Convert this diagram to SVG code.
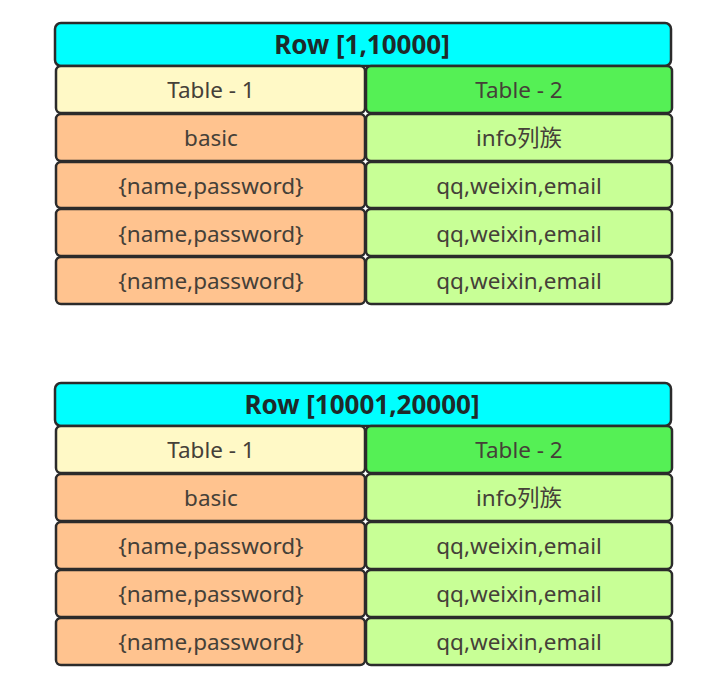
<svg xmlns="http://www.w3.org/2000/svg" width="720" height="690" viewBox="0 0 720 690">
<style>
.c{stroke:#2b2b2b;stroke-width:2.5}
.h{fill:#00FFFF}.t1{fill:#FFF9C6}.t2{fill:#55F055}.o{fill:#FFC38F}.g{fill:#C8FF96}
text{font-family:"Noto Sans","Noto Sans CJK SC",sans-serif;font-size:22.5px;fill:#454038;text-anchor:middle;dominant-baseline:central}
.ht{font-size:26px;font-weight:bold;fill:#1e2a2a}
</style>
<rect width="720" height="690" fill="#fff"/>
<g id="table1">
<g id="t1-header"><rect class="c h" x="55" y="23" width="616" height="43" rx="6"/><text class="ht" x="362" y="44">Row [1,10000]</text></g>
<g id="t1-c1"><rect class="c t1" x="56" y="66" width="309" height="47" rx="5"/><text x="211" y="89">Table - 1</text></g>
<g id="t1-c2"><rect class="c t2" x="366" y="66" width="306" height="47" rx="5"/><text x="519" y="89">Table - 2</text></g>
<g id="t1-r1a"><rect class="c o" x="56" y="114" width="309" height="47" rx="5"/><text x="211" y="137">basic</text></g>
<g id="t1-r1b"><rect class="c g" x="366" y="114" width="306" height="47" rx="5"/><text x="519" y="137">info列族</text></g>
<g id="t1-r2a"><rect class="c o" x="56" y="162" width="309" height="46" rx="5"/><text x="211" y="185">{name,password}</text></g>
<g id="t1-r2b"><rect class="c g" x="366" y="162" width="306" height="46" rx="5"/><text x="519" y="185">qq,weixin,email</text></g>
<g id="t1-r3a"><rect class="c o" x="56" y="209" width="309" height="47" rx="5"/><text x="211" y="233">{name,password}</text></g>
<g id="t1-r3b"><rect class="c g" x="366" y="209" width="306" height="47" rx="5"/><text x="519" y="233">qq,weixin,email</text></g>
<g id="t1-r4a"><rect class="c o" x="56" y="257" width="309" height="47" rx="5"/><text x="211" y="280">{name,password}</text></g>
<g id="t1-r4b"><rect class="c g" x="366" y="257" width="306" height="47" rx="5"/><text x="519" y="280">qq,weixin,email</text></g>
</g>
<g id="table2">
<g id="t2-header"><rect class="c h" x="55" y="383" width="616" height="43" rx="6"/><text class="ht" x="362" y="404">Row [10001,20000]</text></g>
<g id="t2-c1"><rect class="c t1" x="56" y="426" width="309" height="47" rx="5"/><text x="211" y="449">Table - 1</text></g>
<g id="t2-c2"><rect class="c t2" x="366" y="426" width="306" height="47" rx="5"/><text x="519" y="449">Table - 2</text></g>
<g id="t2-r1a"><rect class="c o" x="56" y="474" width="309" height="47" rx="5"/><text x="211" y="497">basic</text></g>
<g id="t2-r1b"><rect class="c g" x="366" y="474" width="306" height="47" rx="5"/><text x="519" y="497">info列族</text></g>
<g id="t2-r2a"><rect class="c o" x="56" y="522" width="309" height="47" rx="5"/><text x="211" y="545">{name,password}</text></g>
<g id="t2-r2b"><rect class="c g" x="366" y="522" width="306" height="47" rx="5"/><text x="519" y="545">qq,weixin,email</text></g>
<g id="t2-r3a"><rect class="c o" x="56" y="570" width="309" height="47" rx="5"/><text x="211" y="593">{name,password}</text></g>
<g id="t2-r3b"><rect class="c g" x="366" y="570" width="306" height="47" rx="5"/><text x="519" y="593">qq,weixin,email</text></g>
<g id="t2-r4a"><rect class="c o" x="56" y="618" width="309" height="47" rx="5"/><text x="211" y="641">{name,password}</text></g>
<g id="t2-r4b"><rect class="c g" x="366" y="618" width="306" height="47" rx="5"/><text x="519" y="641">qq,weixin,email</text></g>
</g>
<g id="connectors"/>
</svg>
